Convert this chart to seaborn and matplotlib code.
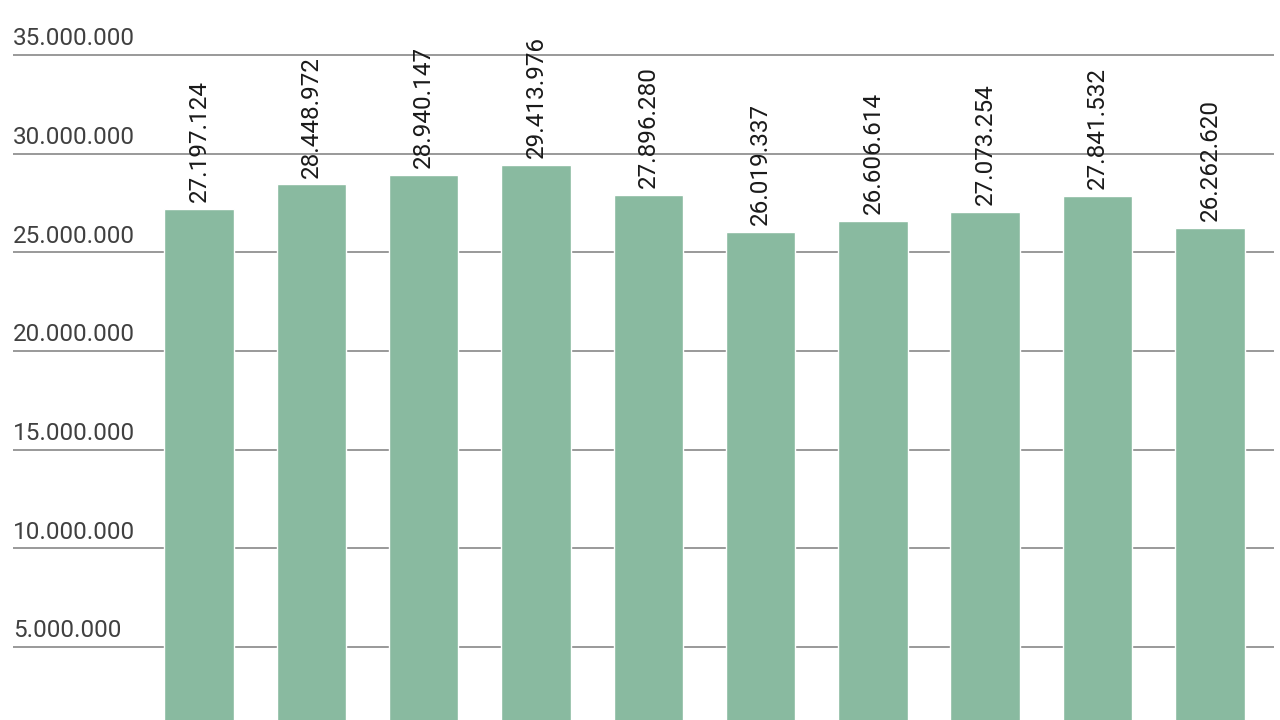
import matplotlib
matplotlib.use("Agg")
import matplotlib.pyplot as plt
import matplotlib.transforms as mtransforms
import seaborn as sns
import pandas as pd

categories = ["1", "2", "3", "4", "5", "6", "7", "8", "9", "10"]
values = [27197124, 28448972, 28940147, 29413976, 27896280,
          26019337, 26606614, 27073254, 27841532, 26262620]
yticks = [5000000, 10000000, 15000000, 20000000, 25000000, 30000000, 35000000]

def fmt(v):
    return f"{v:,}".replace(",", ".")

sns.set_theme(style="white")
plt.rcParams['font.family'] = ['Roboto', 'DejaVu Sans']

fig = plt.figure(figsize=(12.8, 7.2), dpi=100)
ax = fig.add_axes([13/1280, 0, (1274-13)/1280, 1])

df = pd.DataFrame({"cat": categories, "val": values})
sns.barplot(data=df, x="cat", y="val", color="#89BAA0", saturation=1,
            width=0.62, ax=ax, zorder=3)

ax.set_xlim(-1.656, 9.57)
ax.set_ylim(1.30e6, 37.80e6)
ax.set_yticks(yticks)
ax.yaxis.grid(True, color="#999999", linewidth=1.4, zorder=1)
ax.set_axisbelow(True)
ax.tick_params(left=False, bottom=False, labelleft=False, labelbottom=False)
ax.set_xlabel("")
ax.set_ylabel("")
for s in ax.spines.values():
    s.set_visible(False)

trans = mtransforms.blended_transform_factory(ax.transAxes, ax.transData)
for t in yticks:
    ax.annotate(fmt(t), xy=(0, t), xycoords=trans, xytext=(0, 3.5),
                textcoords="offset points", ha="left", va="bottom",
                fontsize=17.5, color="#404040")

for i, v in enumerate(values):
    ax.annotate(fmt(v), xy=(i, v), xytext=(0, 5), textcoords="offset points",
                ha="center", va="bottom", rotation=90, fontsize=17.5,
                color="#1a1a1a", zorder=4)

fig.savefig("out.png", dpi=100)
